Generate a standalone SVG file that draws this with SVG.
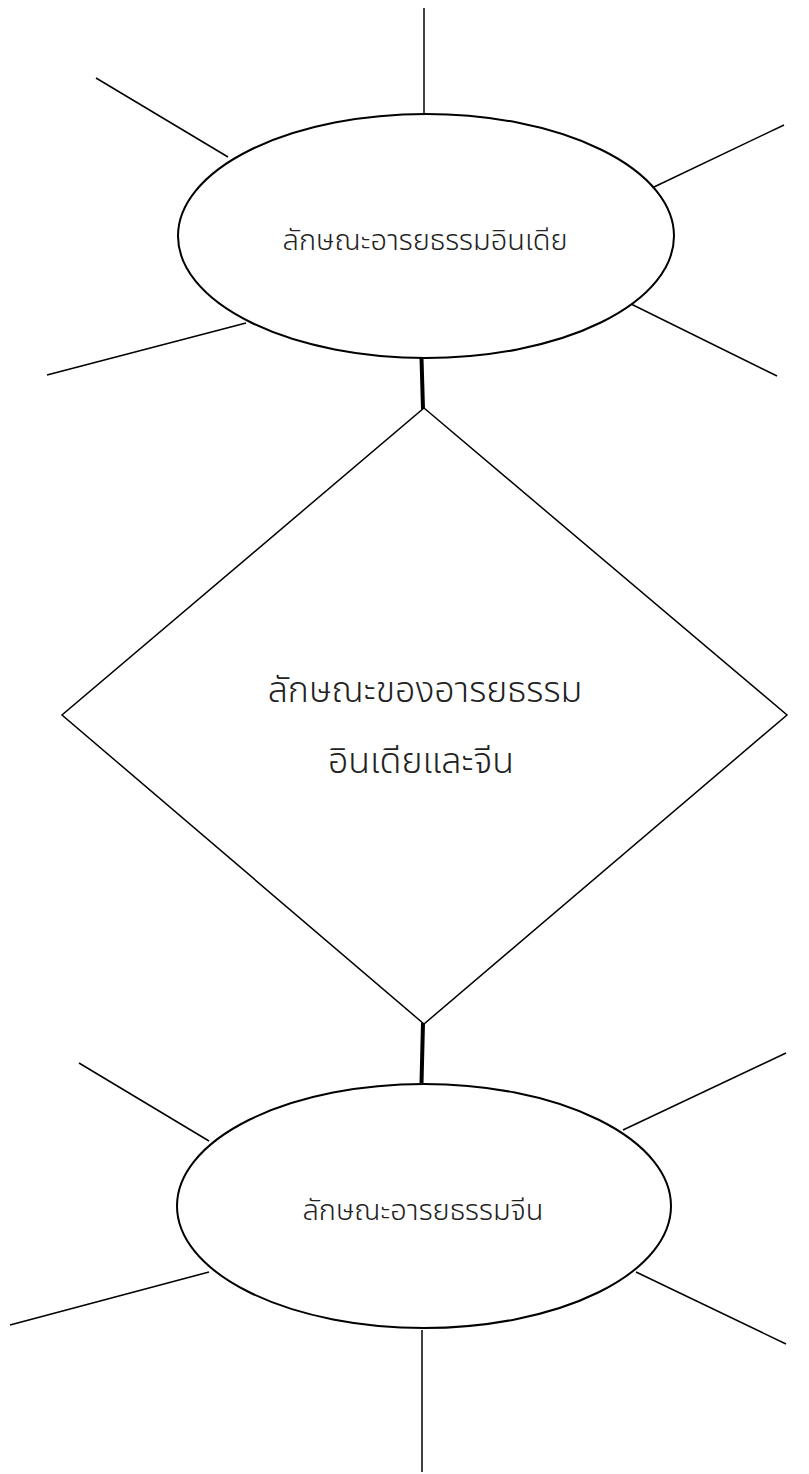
<svg xmlns="http://www.w3.org/2000/svg" width="809" height="1474" viewBox="0 0 809 1474">
<style>
.sh{fill:#fff;stroke:#000;stroke-width:1.5}
.el{fill:#fff;stroke:#000;stroke-width:2}
.sp{stroke:#000;stroke-width:1.5;fill:none}
.th{stroke:#000;stroke-width:4;fill:none}
text{font-family:"Noto Sans Thai","Noto Sans","DejaVu Sans",sans-serif;font-weight:300;fill:#222;text-anchor:middle}
.s{font-size:29px}
.l{font-size:35.7px}
</style>
<rect width="809" height="1474" fill="#fff"/>
<g id="connectors">
<line class="th" x1="421.5" y1="358" x2="423" y2="409"/>
<line class="th" x1="423" y1="1023" x2="421.5" y2="1083"/>
<line class="sp" x1="424" y1="8" x2="424" y2="113"/>
<line class="sp" x1="96" y1="78" x2="228" y2="157"/>
<line class="sp" x1="654" y1="187" x2="784" y2="125"/>
<line class="sp" x1="47" y1="375" x2="246" y2="323"/>
<line class="sp" x1="627" y1="302" x2="777" y2="376"/>
<line class="sp" x1="79" y1="1063" x2="209" y2="1141"/>
<line class="sp" x1="623" y1="1130" x2="786" y2="1053"/>
<line class="sp" x1="10" y1="1325" x2="209" y2="1272"/>
<line class="sp" x1="636" y1="1272" x2="786" y2="1344"/>
<line class="sp" x1="422" y1="1330" x2="422" y2="1472"/>
</g>
<g id="india">
<ellipse class="el" cx="426" cy="236" rx="248" ry="122"/>
<text class="s" x="425" y="250">ลักษณะอารยธรรมอินเดีย</text>
</g>
<g id="center">
<polygon class="sh" points="424,408 787,715 424,1024 62,715"/>
<text class="l" x="425" y="702">ลักษณะของอารยธรรม</text>
<text class="l" x="421" y="773">อินเดียและจีน</text>
</g>
<g id="china">
<ellipse class="el" cx="424" cy="1206" rx="247" ry="122"/>
<text class="s" x="423" y="1220">ลักษณะอารยธรรมจีน</text>
</g>
</svg>
